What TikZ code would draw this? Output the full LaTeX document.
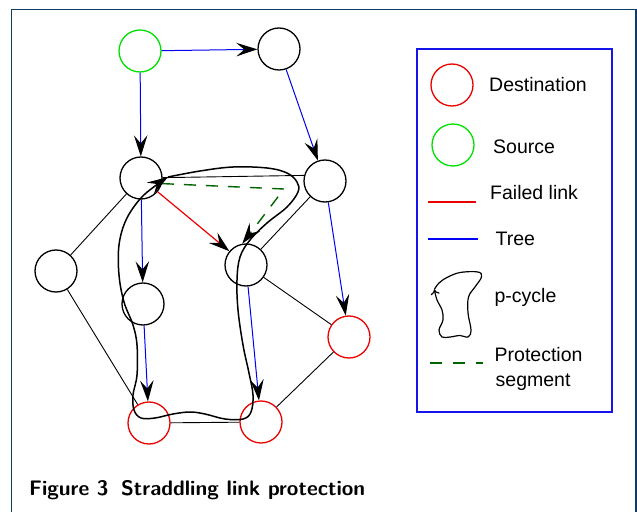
\documentclass[tikz,border=0pt]{standalone}
\usepackage{fontspec}
\setmainfont{Liberation Sans}
\usetikzlibrary{arrows.meta}

\definecolor{framec}{RGB}{16,58,104}
\definecolor{dred}{RGB}{235,0,0}
\definecolor{lgreen}{RGB}{0,225,0}
\definecolor{tblue}{RGB}{0,0,245}
\definecolor{pgreen}{RGB}{0,100,0}
\definecolor{lblue}{RGB}{20,20,235}

\tikzset{
  bigtip/.tip={Stealth[length=21bp,width=13.5bp,inset=8bp,color=black]},
  vtx/.style={circle,draw=black,line width=1.3bp,minimum size=42bp,inner sep=0pt},
  dstv/.style={vtx,draw=dred},
  srcv/.style={vtx,draw=lgreen},
  tree/.style={tblue,line width=1bp,-bigtip},
  link/.style={black,line width=0.9bp},
  fail/.style={dred,line width=1.2bp,-bigtip},
  prot/.style={pgreen,line width=1.4bp,dash pattern=on 12bp off 10bp,-bigtip},
  pcyc/.style={black,line width=1.5bp},
  legtxt/.style={anchor=base west,inner sep=0pt,font=\fontsize{19.5bp}{25bp}\selectfont},
}

\begin{document}
\begin{tikzpicture}[x=1bp,y=-1bp]
\useasboundingbox (0,0) rectangle (637,512);

% outer frame, open at the bottom
\draw[framec,line width=1.2bp] (11.5,512) -- (11.5,9.5) -- (636,9.5) -- (636,512);

% network nodes
\node[srcv] (s) at (140,51) {};
\node[vtx]  (t) at (279,49) {};
\node[vtx]  (a) at (141,178) {};
\node[vtx]  (b) at (325,181) {};
\node[vtx]  (c) at (246,265) {};
\node[vtx]  (d) at (56,271) {};
\node[vtx]  (e) at (143,304) {};
\node[dstv] (f) at (349,337) {};
\node[dstv] (g) at (149,423) {};
\node[dstv] (h) at (261,422) {};

% plain links
\draw[link] (a) -- (b.165);
\draw[link] (a) -- (d);
\draw[link] (d) -- (g);
\draw[link] (b) -- (c);
\draw[link] (c) -- (f);
\draw[link] (f) -- (h);
\draw[link] (g) -- (h);

% multicast tree
\draw[tree] (s) -- (t);
\draw[tree] (s) -- (a);
\draw[tree] (t) -- (b);
\draw[tree] (a) -- (e);
\draw[tree] (b) -- (f);
\draw[tree] (e) -- (g);
\draw[tree] (c) -- (h);

% failed link
\draw[fail] (a) -- (c);

% protection segment
\coordinate (pc) at (284,189);
\draw[prot] (a.-15) -- (pc) -- (c.100);

% p-cycle
\draw[pcyc,-bigtip] plot[smooth,tension=0.6] coordinates {
  (168,177) (200,171) (233,167) (267,168) (287,173) (297,182) (298,192)
  (287,207) (267,223) (250,240) (240,257) (237,280) (238,310) (243,345)
  (249,373) (253,395) (251,412) (243,419) (225,419) (205,414) (190,412)
  (173,414) (155,418) (141,418) (134,410) (133,395) (137,375) (137,345)
  (133,325) (124,302) (119,275) (119,245) (126,220) (140,199) (155,186)
  (168,177)};

% legend
\draw[lblue,line width=1.6bp] (417,49) rectangle (612,412);
\node[dstv] (ld) at (452,85) {};
\node[srcv] (ls) at (453,145) {};
\node[legtxt] (tdst) at (489,91.5) {Destination};
\node[legtxt] (tsrc) at (493,154) {Source};
\node[legtxt] (tfl) at (490,199.3) {Failed link};
\node[legtxt] (ttr) at (495.5,246) {Tree};
\node[legtxt] (tpc) at (494.4,302.7) {p-cycle};
\node[legtxt] (tps1) at (494.5,361.7) {Protection};
\node[legtxt] (tps2) at (495.5,386.7) {segment};
\draw[dred,line width=1.2bp] (428,202) -- (476,202);
\draw[tblue,line width=1.2bp] (428,239) -- (478,239);
\draw[pgreen,line width=1.4bp,dash pattern=on 12bp off 11bp] (430,363) -- (483,363);
\draw[black,line width=1.2bp,-{To[length=5bp,width=9bp]}] plot[smooth,tension=0.6] coordinates {
  (434.3,289.5) (439,283) (447,277.5) (460,272.5) (478,272) (481.5,277)
  (475,287) (468.5,297) (468,313) (471,330) (468,337) (460,335.5) (450,337)
  (442,337) (439,330) (443,320) (442,310) (437,300) (434.3,289.5)};

% caption
\node[anchor=base west,inner sep=0pt,font=\fontsize{21bp}{25bp}\selectfont\sffamily\bfseries] (cap) at (29,495)
  {Figure 3\hspace{0.6em}Straddling link protection};
\end{tikzpicture}
\end{document}
